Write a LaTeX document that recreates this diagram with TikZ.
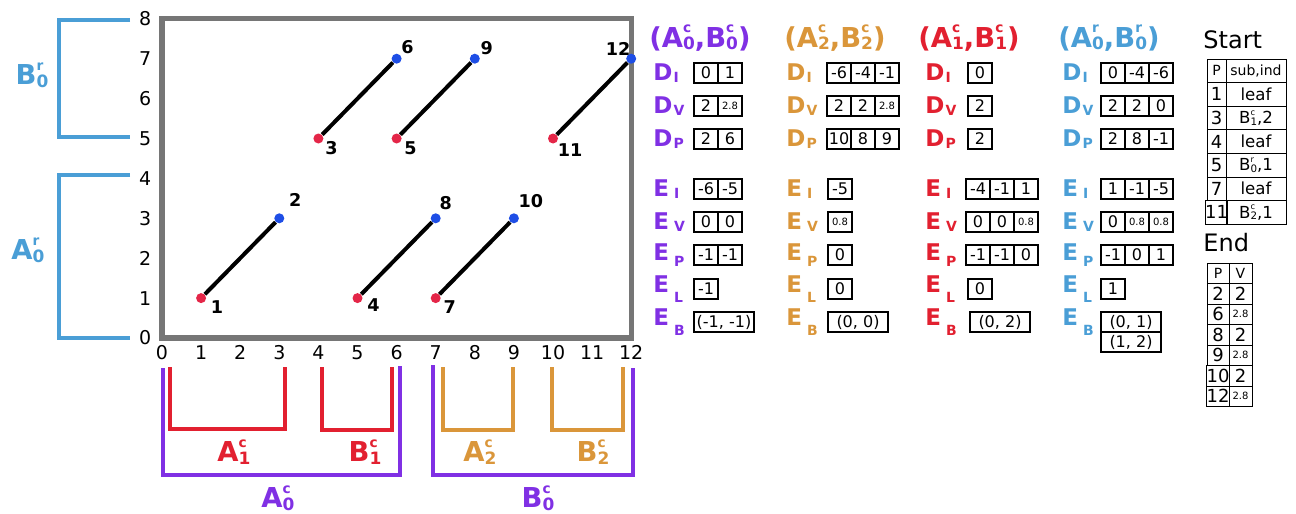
\documentclass[tikz,border=0pt]{standalone}
\usepackage{fontspec}
\usepackage{graphicx}
\setmainfont{DejaVu Sans}
\usetikzlibrary{calc}

\definecolor{purplec}{RGB}{128,48,228}
\definecolor{orangec}{RGB}{218,150,58}
\definecolor{redc}{RGB}{226,32,48}
\definecolor{bluec}{RGB}{74,158,214}
\definecolor{framegray}{RGB}{118,118,118}
\definecolor{dotred}{RGB}{228,38,72}
\definecolor{dotblue}{RGB}{30,78,230}

\newcommand\fs[1]{\fontsize{#1}{#1}\selectfont}
\newcommand\supsub[3]{#1\rlap{\raisebox{0.52em}{\scalebox{0.5}{#2}}}\raisebox{-0.1em}{\scalebox{0.62}{#3}}}
\newcommand\lsub[2][-0.2ex]{\kern0.6pt\raisebox{#1}{\fs{7}#2}}
\newcommand\sm[1]{{\fs{5}#1}}
\newcommand\rowlabels[3]{%
        \foreach \r/\txt/\y in {di/{D\lsub{I}}/73,dv/{D\lsub{V}}/106,dp/{D\lsub{P}}/139,
                ei/{E\,\lsub{I}}/189,ev/{E\,\lsub{V}}/222,ep/{E\,\lsub[-0.5ex]{P}}/255,
                el/{E\,\lsub[-0.8ex]{L}}/289,eb/{E\,\lsub[-0.8ex]{B}}/322}
                \node[lbl, text=#3] (#1-\r) at (#2,\y) {\txt};}
\newcommand\cellrow[4]{%
        \foreach \v [count=\k] in {#4}
                \node[cell] (#1-\k) at ({#2+12+(\k-1)*24},#3) {\v};}

\begin{document}
\begin{tikzpicture}[x=0.5pt,y=-0.5pt,
        gridline/.style={draw=gray!35, line width=0.5pt},
        plotframe/.style={draw=framegray, line width=2.6pt},
        ticklbl/.style={font=\fs{9.5}, inner sep=0pt},
        reddot/.style={circle, fill=dotred, minimum size=5pt, inner sep=0pt},
        bluedot/.style={circle, fill=dotblue, minimum size=5pt, inner sep=0pt},
        seg/.style={line width=2pt, black},
        ptlbl/.style={font=\bfseries\fs{8.8}, inner sep=0pt},
        brk/.style={line width=2pt},
        grp/.style={font=\bfseries\fs{13.7}, inner sep=0pt},
        hdr/.style={font=\bfseries\fs{13.7}, inner sep=0pt, anchor=west},
        lbl/.style={font=\bfseries\fs{11.5}, inner sep=0pt, anchor=west},
        cell/.style={draw, line width=0.6pt, minimum width=12pt, minimum height=10pt, inner sep=0pt, outer sep=0pt, font=\fs{8}},
        wcell/.style={cell, minimum width=30pt},
        tcell/.style={draw, line width=0.5pt, inner sep=0pt, outer sep=0pt},
        ]
        \useasboundingbox (0,0) rectangle (1296,514);

        % plot
        \begin{scope}[shift={(162,338)}, xscale=39.1, yscale=-39.9]
                \draw[gridline] (0,0) grid (12,8);
                \draw[plotframe] (0,0) rectangle (12,8);
                \foreach \i in {0,...,12} \node[ticklbl] (xt\i) at (\i,-0.37) {\i};
                \foreach \j in {0,...,8} \node[ticklbl] (yt\j) at (-0.43,\j) {\j};
                \foreach \n/\x/\y/\st in {1/1/1/reddot,2/3/3/bluedot,3/4/5/reddot,4/5/1/reddot,
                        5/6/5/reddot,6/6/7/bluedot,7/7/1/reddot,8/7/3/bluedot,9/8/7/bluedot,
                        10/9/3/bluedot,11/10/5/reddot,12/12/7/bluedot}
                        \node[\st] (p\n) at (\x,\y) {};
        \end{scope}
        \foreach \pa/\pb in {1/2,3/6,4/8,5/9,7/10,11/12} \draw[seg] (p\pa) -- (p\pb);
        \foreach \n/\dx/\dy in {1/16/9,2/16/-18,3/13/10,4/16/7,5/14/10,6/11/-12,7/14/9,
                8/10/-15,9/12/-11,10/17/-17,11/17/12,12/-13/-10}
                \node[ptlbl] (l\n) at ($(p\n)+(\dx,\dy)$) {\n};

        % row groups
        \draw[brk, bluec] (130,20) -- (59,20) -- (59,137) -- (130,137);
        \draw[brk, bluec] (130,175) -- (59,175) -- (59,338) -- (130,338);
        \node[grp, text=bluec] (b0r) at (32,75) {\supsub{B}{r}{0}};
        \node[grp, text=bluec] (a0r) at (28,250) {\supsub{A}{r}{0}};

        % column groups
        \draw[brk, purplec] (163,368) -- (163,475) -- (400,475) -- (400,366);
        \draw[brk, purplec] (433,365) -- (433,475) -- (633,475) -- (633,368);
        \draw[brk, redc] (170,367) -- (170,429) -- (285,429) -- (285,367);
        \draw[brk, redc] (322,367) -- (322,430) -- (392,430) -- (392,367);
        \draw[brk, orangec] (443,367) -- (443,430) -- (513,430) -- (513,367);
        \draw[brk, orangec] (552,367) -- (552,430) -- (623,430) -- (623,367);
        \node[grp, text=redc] (a1c) at (234,452) {\supsub{A}{c}{1}};
        \node[grp, text=redc] (b1c) at (365,452) {\supsub{B}{c}{1}};
        \node[grp, text=orangec] (a2c) at (480,452) {\supsub{A}{c}{2}};
        \node[grp, text=orangec] (b2c) at (593,452) {\supsub{B}{c}{2}};
        \node[grp, text=purplec] (a0c) at (278,498) {\supsub{A}{c}{0}};
        \node[grp, text=purplec] (b0c) at (538,498) {\supsub{B}{c}{0}};

        % (A0c,B0c)
        \node[hdr, text=purplec] (h1) at (649,38) {(\supsub{A}{c}{0},\supsub{B}{c}{0})};
        \rowlabels{k1}{653}{purplec}
        \cellrow{k1-di}{694}{73}{0,1}
        \cellrow{k1-dv}{694}{106}{2,\sm{2.8}}
        \cellrow{k1-dp}{694}{139}{2,6}
        \cellrow{k1-ei}{694}{189}{-6,-5}
        \cellrow{k1-ev}{694}{222}{0,0}
        \cellrow{k1-ep}{694}{255}{-1,-1}
        \cellrow{k1-el}{694}{289}{-1}
        \node[wcell] (k1-eb-1) at (724,322) {(-1, -1)};

        % (A2c,B2c)
        \node[hdr, text=orangec] (h2) at (784,38) {(\supsub{A}{c}{2},\supsub{B}{c}{2})};
        \rowlabels{k2}{786}{orangec}
        \cellrow{k2-di}{827}{73}{-6,-4,-1}
        \cellrow{k2-dv}{827}{106}{2,2,\sm{2.8}}
        \cellrow{k2-dp}{827}{139}{10,8,9}
        \cellrow{k2-ei}{828}{189}{-5}
        \cellrow{k2-ev}{828}{222}{\sm{0.8}}
        \cellrow{k2-ep}{828}{255}{0}
        \cellrow{k2-el}{828}{289}{0}
        \node[wcell] (k2-eb-1) at (858,322) {(0, 0)};

        % (A1c,B1c)
        \node[hdr, text=redc] (h3) at (918,38) {(\supsub{A}{c}{1},\supsub{B}{c}{1})};
        \rowlabels{k3}{925}{redc}
        \cellrow{k3-di}{968}{73}{0}
        \cellrow{k3-dv}{968}{106}{2}
        \cellrow{k3-dp}{968}{139}{2}
        \cellrow{k3-ei}{966}{189}{-4,-1,1}
        \cellrow{k3-ev}{966}{222}{0,0,\sm{0.8}}
        \cellrow{k3-ep}{966}{255}{-1,-1,0}
        \cellrow{k3-el}{968}{289}{0}
        \node[wcell] (k3-eb-1) at (1000,322) {(0, 2)};

        % (A0r,B0r)
        \node[hdr, text=bluec] (h4) at (1058,38) {(\supsub{A}{r}{0},\supsub{B}{r}{0})};
        \rowlabels{k4}{1062}{bluec}
        \cellrow{k4-di}{1101}{73}{0,-4,-6}
        \cellrow{k4-dv}{1101}{106}{2,2,0}
        \cellrow{k4-dp}{1101}{139}{2,8,-1}
        \cellrow{k4-ei}{1101}{189}{1,-1,-5}
        \cellrow{k4-ev}{1101}{222}{0,\sm{0.8},\sm{0.8}}
        \cellrow{k4-ep}{1101}{255}{-1,0,1}
        \cellrow{k4-el}{1101}{289}{1}
        \node[wcell] (k4-eb-1) at (1131,322) {(0, 1)};
        \node[wcell] (k4-eb-2) at (1131,342) {(1, 2)};

        % Start
        \node[font=\fs{12}, anchor=west, inner sep=0pt] (start) at (1203,40) {Start};
        \node[tcell, minimum width=9.5pt, minimum height=11.8pt, font=\fs{7}] (sp0) at (1216.5,70.8) {P};
        \node[tcell, minimum width=30pt, minimum height=11.8pt, font=\fs{7}] (ss0) at (1256,70.8) {sub,ind};
        \foreach \p/\s [count=\k] in {1/leaf,3/{\supsub{B}{c}{1},2},4/leaf,5/{\supsub{B}{r}{0},1},
                7/leaf,11/{\supsub{B}{c}{2},1}} {
                \node[tcell, minimum width=9.5pt, minimum height=11.8pt, font=\fs{9}] (sp\k) at (1216.5,{70.8+23.6*\k}) {\p};
                \node[tcell, minimum width=30pt, minimum height=11.8pt, font=\fs{8.3}] (ss\k) at (1256,{70.8+23.6*\k}) {\s};
        }

        % End
        \node[font=\fs{12}, anchor=west, inner sep=0pt] (end) at (1203,243) {End};
        \node[tcell, minimum width=11pt, minimum height=10.25pt, font=\fs{7}] (ep0) at (1218,273.25) {P};
        \node[tcell, minimum width=11.5pt, minimum height=10.25pt, font=\fs{7}] (ev0) at (1240.5,273.25) {V};
        \foreach \p/\s [count=\k] in {2/2,6/\sm{2.8},8/2,9/\sm{2.8},10/2,12/\sm{2.8}} {
                \node[tcell, minimum width=11pt, minimum height=10.25pt, font=\fs{9}] (ep\k) at (1218,{273.25+20.5*\k}) {\p};
                \node[tcell, minimum width=11.5pt, minimum height=10.25pt, font=\fs{9}] (ev\k) at (1240.5,{273.25+20.5*\k}) {\s};
        }
\end{tikzpicture}
\end{document}
